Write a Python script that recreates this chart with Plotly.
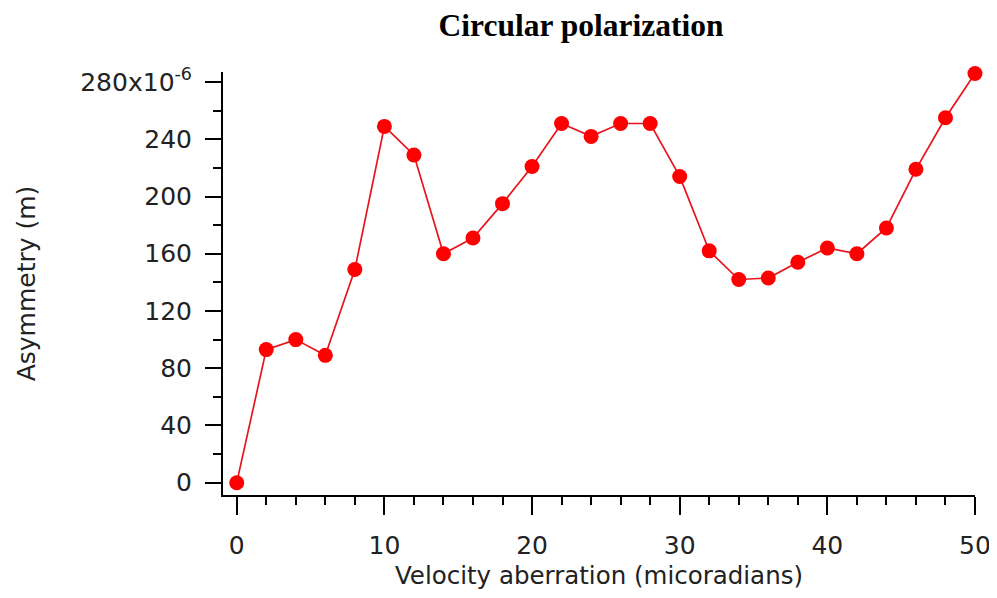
import plotly.graph_objects as go

velocity = [0, 2, 4, 6, 8, 10, 12, 14, 16, 18, 20, 22, 24, 26, 28, 30, 32, 34, 36, 38, 40, 42, 44, 46, 48, 50]
asymmetry_e6 = [0, 93, 100, 89, 149, 249, 229, 160, 171, 195, 221, 251, 242, 251, 251, 214,
                162, 142, 143, 154, 164, 160, 178, 219, 255, 286]
asymmetry = [v * 1e-6 for v in asymmetry_e6]

ytick_vals = [0, 40e-6, 80e-6, 120e-6, 160e-6, 200e-6, 240e-6, 280e-6]
ytick_text = ["0", "40", "80", "120", "160", "200", "240", "280x10<sup>-6</sup>"]
xtick_vals = [0, 10, 20, 30, 40, 50]

fig = go.Figure()
fig.add_trace(go.Scatter(
    x=velocity, y=asymmetry, mode="lines+markers",
    line=dict(color="#e8141c", width=1.7),
    marker=dict(color="#ff0000", size=15),
    cliponaxis=False,
    showlegend=False,
))

tickfont = dict(family="DejaVu Sans", size=25, color="#222")
# page body has an 8px margin; figure size and margins compensate for it
fig.update_layout(
    width=989, height=582,
    margin=dict(l=215, r=22, t=64, b=95),
    paper_bgcolor="white", plot_bgcolor="white",
    title=dict(text="<b>Circular polarization</b>", x=573 / 989, xanchor="center",
               y=1 - 17 / 582, yanchor="middle",
               font=dict(family="Liberation Serif", size=31.5, color="black")),
    xaxis=dict(
        range=[-0.93, 50], showgrid=False, zeroline=False, automargin=False,
        showline=True, linecolor="black", linewidth=2,
        tickvals=xtick_vals, ticks="outside", ticklen=18, tickwidth=2, tickcolor="black",
        minor=dict(dtick=2, tick0=0, ticks="outside", ticklen=8, tickwidth=2, tickcolor="black"),
        tickfont=tickfont, ticklabelstandoff=9,
        title=dict(text="Velocity aberration (micoradians)",
                   font=dict(family="DejaVu Sans", size=24.5, color="#222"), standoff=12),
    ),
    yaxis=dict(
        range=[-8.6e-6, 287e-6], showgrid=False, zeroline=False, automargin=False,
        showline=True, linecolor="black", linewidth=2,
        tickvals=ytick_vals, ticktext=ytick_text,
        ticks="outside", ticklen=16, tickwidth=2, tickcolor="black",
        minor=dict(dtick=20e-6, tick0=0, ticks="outside", ticklen=8, tickwidth=2, tickcolor="black"),
        tickfont=tickfont, ticklabelstandoff=8,
        title=dict(text="Asymmetry (m)", font=dict(family="DejaVu Sans", size=25, color="#222"),
                   standoff=37),
    ),
)

fig.write_html("out.html")
